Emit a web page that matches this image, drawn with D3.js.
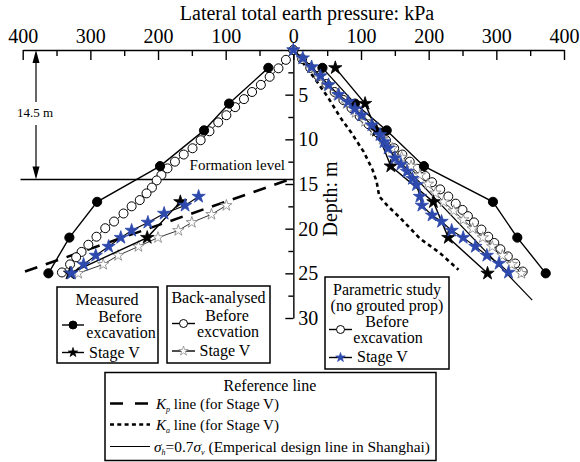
<!DOCTYPE html>
<html>
<head>
<meta charset="utf-8">
<script src="https://cdn.jsdelivr.net/npm/d3@7"></script>
<style>
  body { margin: 0; background: #fff; }
</style>
</head>
<body>
<div id="container"></div>
<script>
// every point is [depth (m), lateral pressure (kPa)]
const measBeforeLeft = [[2,37],[6,95],[9,132],[13,197],[17,290],[21,331],[25,362]];
const measBeforeRight = [[2,43],[6,91],[9,138],[13,193],[17,295],[21,331],[25,373]];
const measStageLeft = [[17,167],[21,216],[25,330]];
const measStageRight = [[2,62],[6,106],[9,123],[13,144],[17,207],[21,229],[25,287]];

const baBeforeLeft = [[0,0],[1.1,11],[2.05,22],[3,35],[3.9,48],[4.7,61],[5.5,73],[6.4,86],[7.3,99],[8.1,111],[9.1,124],[10.1,137],[11,149],[11.7,162],
  [12.5,175],[13.25,186],[14,195],[14.6,202],[15.4,209],[16.05,217],[16.8,227],[17.5,239],[18.3,251],[19.2,265],[19.95,278],
  [20.9,291],[21.8,303],[22.6,313],[23.2,321],[24,330],[24.9,342]];
const baBeforeRight = [[0,0],[1,13],[2,25],[2.9,37],[3.8,49],[4.7,61],[5.6,74],[6.5,86],[7.4,98],[8.3,111],[9.2,124],[10.1,137],[11,149],[11.7,161],
  [12.5,172],[13.3,183],[14.1,195],[14.8,205],[15.6,217],[16.4,229],[17.2,240],[17.9,250],[18.6,258],[19.3,267],[20.1,278],
  [20.9,288],[21.6,297],[22.3,306],[23.1,317],[23.9,328],[24.8,339]];

const baStageLeft = [[17.4,99],[18.4,121],[19.3,150],[20.2,170],[21,200],[22,229],[23,259],[24,281],[25,318]];
const baStageRight = [[0,0],[1,13],[2,26],[3,39],[4,52],[5,65],[6,79],[7,92],[8,106],[9,119],[10,132],[11,146],[12,160],[13,174],
  [14,187],[15,199],[16,210],[17,222],[18,237],[19,251],[20,265],[21,280],[22,294],[23,309],[24,323],[25,337]];

const paramStageLeft = [[16.4,140],[17.4,160],[18.3,191],[19.3,215],[20.2,239],[21,255],[22,273],[23,292],[24,310],[25,328]];
const paramStageRight = [[0,0],[0.9,14],[1.9,27],[2.9,40],[3.9,52],[5,67],[5.8,81],[6.6,91],[7.3,101],[8.4,116],[9.5,128],[10.3,134],
  [11,140],[12.1,150],[12.8,159],[13.6,168],[14.4,176],[15.1,182],[16.4,187],[17.4,190],[18.5,205],[19.2,219],[20.2,234],
  [21,251],[22,269],[23,286],[23.9,304],[24.9,318]];

const kpLine = [[14.6,10],[25,404]];
const kaLine = [[0,0],[1.7,17],[3.55,35],[5.4,52],[7.5,69],[9.3,86],[11.4,104],[13.4,117],[14.7,123],[16.4,127],[17.5,140],
  [18.8,158],[21.1,187],[22.75,217],[24.6,244]];
const empLine = [[0,0],[28,353]];

const formationDepth = 14.5;
const xMajor = [-400,-300,-200,-100,0,100,200,300,400];
const xMinor = [-350,-250,-150,-50,50,150,250,350];
const yMajor = [5,10,15,20,25,30];
const yMinor = [2.5,7.5,12.5,17.5,22.5,27.5];

const width = 580, height = 462;
const blue = "#2d49ad";
const serif = "'Liberation Serif', 'Times New Roman', serif";

const svg = d3.select("#container").append("svg")
  .attr("width", width).attr("height", height)
  .attr("font-family", serif);

const x = d3.scaleLinear().domain([-400, 400]).range([22.7, 564]);
const y = d3.scaleLinear().domain([0, 30]).range([50, 318]);

// axes
svg.append("g")
  .attr("transform", "translate(0," + y(0) + ")")
  .call(d3.axisTop(x).tickValues(xMinor).tickSize(-6).tickSizeOuter(0).tickFormat(""))
  .call(g => g.select(".domain").remove());
const xAxis = svg.append("g")
  .attr("transform", "translate(0," + y(0) + ")")
  .call(d3.axisTop(x).tickValues(xMajor).tickSize(-10).tickSizeOuter(0).tickPadding(7).tickFormat(d => Math.abs(d)));
xAxis.attr("font-family", serif).attr("font-size", 20);
xAxis.selectAll("text").attr("fill", "#000");

svg.append("g")
  .attr("transform", "translate(" + x(0) + ",0)")
  .call(d3.axisRight(y).tickValues(yMinor).tickSize(-5).tickSizeOuter(0).tickFormat(""))
  .call(g => g.select(".domain").remove());
const yAxis = svg.append("g")
  .attr("transform", "translate(" + x(0) + ",0)")
  .call(d3.axisRight(y).tickValues(yMajor).tickSize(-8).tickSizeOuter(0).tickPadding(5));
yAxis.attr("font-family", serif).attr("font-size", 20);
yAxis.selectAll("text").attr("fill", "#000");
svg.selectAll(".domain, .tick line").attr("stroke", "#000").attr("stroke-width", 1.4);

svg.append("text")
  .attr("x", 307).attr("y", 20)
  .attr("text-anchor", "middle").attr("font-size", 20)
  .text("Lateral total earth pressure: kPa");

svg.append("text")
  .attr("transform", "translate(337,199)rotate(-90)")
  .attr("text-anchor", "middle").attr("font-size", 20)
  .text("Depth: m");

// formation level and 14.5 m dimension
svg.append("line")
  .attr("x1", 20.5).attr("x2", x(0))
  .attr("y1", y(formationDepth)).attr("y2", y(formationDepth))
  .attr("stroke", "#000").attr("stroke-width", 1.4);
svg.append("text")
  .attr("x", 285).attr("y", 170).attr("text-anchor", "end").attr("font-size", 15)
  .text("Formation level");

const dimX = 36;
svg.append("line").attr("x1", dimX).attr("x2", dimX).attr("y1", y(0) + 4).attr("y2", 102)
  .attr("stroke", "#000").attr("stroke-width", 1.2);
svg.append("line").attr("x1", dimX).attr("x2", dimX).attr("y1", 125).attr("y2", y(formationDepth) - 4)
  .attr("stroke", "#000").attr("stroke-width", 1.2);
svg.append("path")
  .attr("d", "M" + dimX + "," + y(0) + "l-3.5,13h7z")
  .attr("fill", "#000");
svg.append("path")
  .attr("d", "M" + dimX + "," + y(formationDepth) + "l-3.5,-13h7z")
  .attr("fill", "#000");
svg.append("text")
  .attr("x", 35).attr("y", 117).attr("text-anchor", "middle").attr("font-size", 13)
  .text("14.5 m");

// reference lines
const line = side => d3.line().x(d => x(side * d[1])).y(d => y(d[0]));

svg.append("path").datum(kpLine).attr("d", line(-1))
  .attr("fill", "none").attr("stroke", "#000").attr("stroke-width", 2.6).attr("stroke-dasharray", "13,9");
svg.append("path").datum(kaLine).attr("d", line(1))
  .attr("fill", "none").attr("stroke", "#000").attr("stroke-width", 2.6).attr("stroke-dasharray", "4,3.5");
svg.append("path").datum(empLine).attr("d", line(1))
  .attr("fill", "none").attr("stroke", "#000").attr("stroke-width", 1.2);

const star = size => d3.symbol(d3.symbolStar, size)();

function drawSeries(data, side, marker) {
  svg.append("path").datum(data).attr("d", line(side))
    .attr("fill", "none").attr("stroke", marker.lineColor || "#000").attr("stroke-width", marker.lineWidth || 1.2);
  const g = svg.append("g");
  const pts = g.selectAll("g").data(data).enter().append("g")
    .attr("transform", d => "translate(" + x(side * d[1]) + "," + y(d[0]) + ")");
  if (marker.type === "circle") {
    pts.append("circle").attr("r", marker.r)
      .attr("fill", marker.fill).attr("stroke", "#000").attr("stroke-width", 1);
  } else {
    pts.append("path").attr("d", star(marker.size))
      .attr("fill", marker.fill).attr("stroke", marker.stroke).attr("stroke-width", marker.strokeWidth || 0.8);
  }
}

const mkBaBefore = { type: "circle", r: 4.5, fill: "#fff", lineWidth: 1 };
const mkMeasBefore = { type: "circle", r: 4.6, fill: "#000", lineWidth: 1.4 };
const mkBaStage = { type: "star", size: 40, fill: "#fff", stroke: "#808080", lineWidth: 1, lineColor: "#333" };
const mkMeasStage = { type: "star", size: 55, fill: "#000", stroke: "#000", lineWidth: 1.4 };
const mkParamStage = { type: "star", size: 55, fill: blue, stroke: blue, lineWidth: 1.1 };

drawSeries(baBeforeLeft, -1, mkBaBefore);
drawSeries(baBeforeRight, 1, mkBaBefore);
drawSeries(measBeforeLeft, -1, mkMeasBefore);
drawSeries(measBeforeRight, 1, mkMeasBefore);
drawSeries(baStageLeft, -1, mkBaStage);
drawSeries(baStageRight, 1, mkBaStage);
drawSeries(measStageLeft, -1, mkMeasStage);
drawSeries(measStageRight, 1, mkMeasStage);
drawSeries(paramStageLeft, -1, mkParamStage);
drawSeries(paramStageRight, 1, mkParamStage);

// legends
function box(x0, y0, w, h) {
  svg.append("rect").attr("x", x0).attr("y", y0).attr("width", w).attr("height", h)
    .attr("fill", "#fff").attr("stroke", "#000").attr("stroke-width", 1.5);
}
function label(tx, ty, txt, anchor, size) {
  return svg.append("text").attr("x", tx).attr("y", ty).attr("font-size", size || 16)
    .attr("text-anchor", anchor || "start").text(txt);
}
function legendMark(x0, x1, ly, marker) {
  svg.append("line").attr("x1", x0).attr("x2", x1).attr("y1", ly).attr("y2", ly)
    .attr("stroke", "#000").attr("stroke-width", 1.4);
  const g = svg.append("g").attr("transform", "translate(" + (x0 + x1) / 2 + "," + ly + ")");
  if (marker.type === "circle") {
    g.append("circle").attr("r", 4).attr("fill", marker.fill).attr("stroke", "#000");
  } else {
    g.append("path").attr("d", star(28)).attr("fill", marker.fill).attr("stroke", marker.stroke).attr("stroke-width", 0.7);
  }
}

box(57, 287, 101, 76);
label(107, 305, "Measured", "middle");
legendMark(62, 84, 325, mkMeasBefore);
label(120, 322, "Before", "middle");
label(121, 338, "excavation", "middle");
legendMark(62, 84, 352.5, mkMeasStage);
label(89, 357.5, "Stage V");

box(167, 286, 103, 77);
label(218.5, 303, "Back-analysed", "middle");
legendMark(172, 195, 323.5, mkBaBefore);
label(227, 320.5, "Before", "middle");
label(228, 337, "excvation", "middle");
legendMark(172, 195, 351, mkBaStage);
label(199.5, 355.5, "Stage V");

box(325, 277, 124, 92);
label(387, 295, "Parametric study", "middle");
label(387, 311, "(no grouted prop)", "middle");
legendMark(329, 352, 329.5, mkBaBefore);
label(387, 327, "Before", "middle");
label(388, 343, "excavation", "middle");
legendMark(329, 352, 357.5, mkParamStage);
label(357, 362, "Stage V");

box(105, 372.5, 331, 88);
label(270, 390.5, "Reference line", "middle");
svg.append("line").attr("x1", 110).attr("x2", 150).attr("y1", 403.5).attr("y2", 403.5)
  .attr("stroke", "#000").attr("stroke-width", 2.6).attr("stroke-dasharray", "13,12");
svg.append("line").attr("x1", 110).attr("x2", 150).attr("y1", 424.5).attr("y2", 424.5)
  .attr("stroke", "#000").attr("stroke-width", 2.6).attr("stroke-dasharray", "4,3.3");
svg.append("line").attr("x1", 110).attr("x2", 150).attr("y1", 446.5).attr("y2", 446.5)
  .attr("stroke", "#000").attr("stroke-width", 1.2);

const t1 = label(156, 408.5, "", "start", 15);
t1.append("tspan").attr("font-style", "italic").text("K");
t1.append("tspan").attr("font-size", 8).attr("dy", 3).attr("font-style", "italic").text("p");
t1.append("tspan").attr("dy", -3).text(" line (for Stage V)");

const t2 = label(156, 429.5, "", "start", 15);
t2.append("tspan").attr("font-style", "italic").text("K");
t2.append("tspan").attr("font-size", 8).attr("dy", 3).attr("font-style", "italic").text("a");
t2.append("tspan").attr("dy", -3).text(" line (for Stage V)");

const t3 = label(154, 451.5, "", "start", 15.4);
t3.append("tspan").attr("font-style", "italic").text("σ");
t3.append("tspan").attr("font-size", 8).attr("dy", 3).attr("font-style", "italic").text("h");
t3.append("tspan").attr("dy", -3).text("=0.7");
t3.append("tspan").attr("font-style", "italic").text("σ");
t3.append("tspan").attr("font-size", 8).attr("dy", 3).attr("font-style", "italic").text("v");
t3.append("tspan").attr("dy", -3).text(" (Emperical design line in Shanghai)");
</script>
</body>
</html>
